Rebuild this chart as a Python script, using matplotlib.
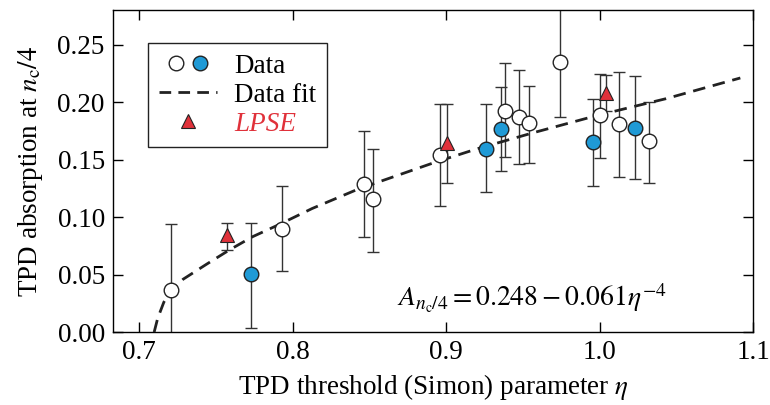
import matplotlib
matplotlib.use("Agg")
import numpy as np
import matplotlib.pyplot as plt
from matplotlib.lines import Line2D
from matplotlib.legend_handler import HandlerTuple

# open circles (data)
open_x = [0.7205, 0.7933, 0.8467, 0.8521, 0.8963, 0.9381, 0.9474, 0.9542, 0.9743, 1.0001, 1.0127, 1.0325]
open_y = [0.037, 0.090, 0.1285, 0.1155, 0.1536, 0.1927, 0.1873, 0.1815, 0.2347, 0.1884, 0.1812, 0.1658]
open_lo = [-0.005, 0.053, 0.0827, 0.0694, 0.1096, 0.152, 0.1464, 0.147, 0.1868, 0.1517, 0.1348, 0.1293]
open_hi = [0.0937, 0.1267, 0.1745, 0.1594, 0.198, 0.234, 0.2283, 0.2144, 0.29, 0.2246, 0.2266, 0.1999]

# filled blue circles (data)
blue_x = [0.7729, 0.9258, 0.9355, 0.9959, 1.0228]
blue_y = [0.0503, 0.1594, 0.1768, 0.1652, 0.1773]
blue_lo = [0.0036, 0.1215, 0.140, 0.1267, 0.1328]
blue_hi = [0.0951, 0.198, 0.2135, 0.2029, 0.2225]

# LPSE triangles
lpse_x = [0.7571, 0.9004, 1.0040]
lpse_y = [0.0848, 0.1646, 0.2081]
lpse_lo = [0.0718, 0.130, 0.192]
lpse_hi = [0.0951, 0.198, 0.224]

# dashed fit curve
fit_x = [0.7097, 0.7120, 0.7160, 0.7205, 0.7286, 0.7438, 0.7588, 0.7739, 0.7911, 0.8127,
         0.8429, 0.8666, 0.8924, 0.9204, 0.9571, 0.9959, 1.0217, 1.0433, 1.0917]
fit_y = [0.0, 0.012, 0.026, 0.036, 0.046, 0.059, 0.0715, 0.0830, 0.0935, 0.1075,
         0.1245, 0.1355, 0.1475, 0.1595, 0.1735, 0.1875, 0.1960, 0.2030, 0.2210]

x_ticks = [0.7, 0.8, 0.9, 1.0, 1.1]
y_ticks = [0.00, 0.05, 0.10, 0.15, 0.20, 0.25]

plt.rcParams['font.family'] = ['Liberation Serif', 'DejaVu Serif']
plt.rcParams['mathtext.fontset'] = 'stix'

BLUE = '#1f9ad6'
RED = '#e0313a'
ECOL = '#333333'
FS = 19.5

fig = plt.figure(figsize=(7.7, 4.05), dpi=100)
ax = fig.add_axes([0.147, 0.180, 0.831, 0.795])


def err(y, lo, hi):
    y = np.array(y); lo = np.array(lo); hi = np.array(hi)
    return [y - lo, hi - y]


ebkw = dict(fmt='none', ecolor=ECOL, elinewidth=1.0, capsize=4, capthick=1.0, zorder=2)
ax.errorbar(open_x, open_y, yerr=err(open_y, open_lo, open_hi), **ebkw)
ax.errorbar(blue_x, blue_y, yerr=err(blue_y, blue_lo, blue_hi), **ebkw)
ax.errorbar(lpse_x, lpse_y, yerr=err(lpse_y, lpse_lo, lpse_hi), **ebkw)

dash = (0, (4.5, 2.8))
ax.plot(fit_x, fit_y, color='#222222', lw=2.0, ls=dash, zorder=3)

ax.plot(open_x, open_y, 'o', ms=10.5, mfc='white', mec='#222222', mew=1.0, ls='none', zorder=4)
ax.plot(blue_x, blue_y, 'o', ms=10.5, mfc=BLUE, mec='#222222', mew=1.0, ls='none', zorder=4)
ax.plot(lpse_x, lpse_y, '^', ms=10.5, mfc=RED, mec='#222222', mew=0.8, ls='none', zorder=5)

ax.set_xlim(0.683, 1.1)
ax.set_ylim(0, 0.28)
ax.set_xticks(x_ticks)
ax.set_xticklabels(['0.7', '0.8', '0.9', '1.0', '1.1'])
ax.set_yticks(y_ticks)
ax.set_yticklabels(['%.2f' % v for v in y_ticks])
ax.tick_params(direction='in', length=7, width=1, top=True, right=True, labelsize=FS, pad=6)
for s in ax.spines.values():
    s.set_linewidth(1.0)

ax.set_xlabel(r'TPD threshold (Simon) parameter $\eta$', fontsize=FS, labelpad=5)
ax.set_ylabel(r'TPD absorption at $n_\mathrm{c}/4$', fontsize=FS, labelpad=9)

ax.text(0.868, 0.029, r'$A_{n_\mathrm{c}/4} = 0.248 - 0.061\eta^{-4}$',
        fontsize=20, ha='left', va='center')

h_open = Line2D([], [], marker='o', ms=10.5, mfc='white', mec='#222222', ls='none')
h_blue = Line2D([], [], marker='o', ms=10.5, mfc=BLUE, mec='#222222', ls='none')
h_fit = Line2D([], [], color='#222222', lw=2.0, ls=(0, (4.2, 2.6)))
h_lpse = Line2D([], [], marker='^', ms=10.5, mfc=RED, mec='#222222', mew=0.8, ls='none')
leg = ax.legend([(h_open, h_blue), h_fit, h_lpse], ['Data', 'Data fit', 'LPSE'],
                handler_map={tuple: HandlerTuple(ndivide=None, pad=-0.35)},
                loc='upper left', bbox_to_anchor=(0.054, 0.8975), borderaxespad=0,
                fontsize=FS, frameon=True, fancybox=False, edgecolor='#222222', framealpha=1,
                handlelength=2.15, handletextpad=0.65, borderpad=0.4, labelspacing=0.14)
leg.get_frame().set_linewidth(1.0)
leg.get_texts()[2].set_color(RED)
leg.get_texts()[2].set_style('italic')

fig.savefig('out.png', dpi=100)
